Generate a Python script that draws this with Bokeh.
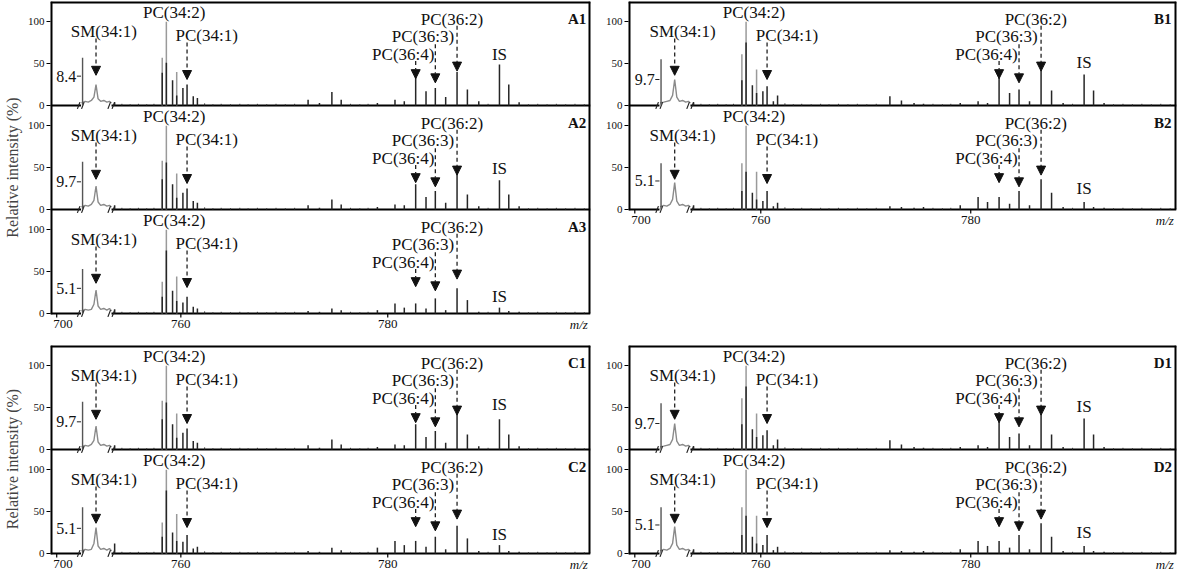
from bokeh.plotting import figure
from bokeh.models import Range1d, FixedTicker, Arrow, NormalHead
from bokeh.layouts import column, row
from bokeh.embed import file_html
from bokeh.resources import INLINE
from bokeh.core.properties import value

SERIF = "Liberation Serif"

# ---------------- data ----------------
# m/z below the axis break are drawn shifted by LOW_SHIFT (broken x axis)
LOW_SHIFT = 48.0
X_START, X_END = 747.4, 799.6
P = 124            # y units per stacked panel
U = 124 / 104      # y units per pixel

TICK_MZ = [700, 760, 780]
TICK_LABELS = ["700", "760", "780"]
BREAK_MZ = [702.35, 705.3]

PEAK_MZ = [753.6, 758.2, 758.6, 759.2, 759.6, 760.2, 760.6, 761.2, 761.6, 772.3, 773.4,
           774.6, 775.5, 779.0, 780.7, 781.6, 782.7, 783.7, 784.6, 785.6, 786.7, 787.7,
           788.8, 790.8, 791.7, 792.7]
GRAY_MZ = [758.2, 758.6, 759.6]
EDGE_MZ = 702.5
SM_TRACE_MZ = [702.4, 702.75, 703.05, 703.35, 703.6, 703.8, 704.0, 704.25, 704.55, 704.85, 705.1, 705.3]
NOISE_MZ = [754.3, 755.1, 755.9, 756.7, 757.4, 762.3, 763.1, 763.9, 764.8, 765.7, 766.5, 767.4,
            768.3, 769.2, 770.1, 771.0, 776.4, 777.3, 778.1, 789.7, 793.6, 794.5, 795.4,
            796.3, 797.2, 798.1, 799.0]
NOISE_H = [2, 1.5, 2, 1.5, 2, 2.5, 1.5, 2, 1.5, 2, 1.5, 2, 1.5, 2, 1.5, 2, 2, 1.5, 2,
           2, 1.5, 2, 1.5, 2, 1.5, 2, 1.5]

PANEL_NAMES = ["A1", "A2", "A3", "B1", "B2", "C1", "C2", "D1", "D2"]

A1_PEAKS = [4, 39, 51, 30, 12, 21, 25, 11, 9, 7, 3, 16, 7, 3, 7, 5, 35, 17, 21, 10, 40, 19, 5, 49, 25, 4]
A2_PEAKS = [5, 36, 56, 30, 14, 20, 25, 10, 8, 5, 2, 12, 6, 3, 6, 5, 30, 15, 22, 8, 48, 18, 4, 35, 18, 4]
A3_PEAKS = [5, 20, 75, 27, 15, 13, 20, 8, 6, 3, 2, 6, 4, 4, 12, 7, 12, 6, 18, 4, 30, 16, 2, 7, 3, 2]
B1_PEAKS = [4, 30, 75, 24, 15, 17, 23, 5, 12, 11, 6, 3, 2, 3, 5, 3, 33, 15, 19, 5, 43, 18, 3, 37, 18, 3]
B2_PEAKS = [5, 22, 45, 20, 12, 10, 22, 4, 8, 4, 3, 2, 3, 5, 15, 9, 15, 7, 22, 5, 36, 20, 3, 9, 3, 2]
C1_PEAKS = [5, 36, 56, 30, 14, 20, 25, 10, 8, 5, 2, 12, 6, 3, 6, 5, 30, 15, 22, 8, 46, 18, 4, 36, 18, 4]
C2_PEAKS = [12, 20, 75, 25, 15, 14, 22, 6, 8, 3, 2, 7, 4, 7, 15, 10, 15, 8, 20, 5, 33, 18, 3, 10, 3, 2]
D1_PEAKS = [4, 30, 75, 24, 15, 17, 23, 5, 12, 11, 6, 3, 2, 3, 5, 3, 33, 15, 19, 5, 43, 18, 3, 37, 18, 3]
D2_PEAKS = [5, 22, 45, 20, 12, 10, 22, 4, 8, 4, 3, 2, 3, 5, 15, 9, 15, 7, 22, 5, 36, 20, 3, 9, 3, 2]

A1_GRAY = [57, 100, 40]
A2_GRAY = [58, 100, 43]
A3_GRAY = [38, 100, 44]
B1_GRAY = [61, 100, 43]
B2_GRAY = [55, 100, 45]
C1_GRAY = [58, 100, 43]
C2_GRAY = [37, 100, 47]
D1_GRAY = [61, 100, 43]
D2_GRAY = [55, 100, 45]

A1_SM = [3, 5, 4, 6, 10, 25, 8, 5, 6, 4, 5, 3]
A2_SM = [3, 5, 4, 6, 11, 28, 9, 5, 6, 4, 5, 3]
A3_SM = [3, 5, 4, 5, 11, 28, 9, 5, 6, 4, 6, 3]
B1_SM = [3, 4, 5, 6, 12, 31, 10, 5, 6, 4, 5, 3]
B2_SM = [3, 5, 4, 6, 12, 32, 10, 5, 6, 4, 5, 3]
C1_SM = [3, 5, 4, 6, 11, 28, 9, 5, 6, 4, 5, 3]
C2_SM = [3, 5, 4, 5, 12, 31, 9, 5, 6, 4, 6, 3]
D1_SM = [3, 4, 5, 6, 12, 31, 10, 5, 6, 4, 5, 3]
D2_SM = [3, 5, 4, 6, 12, 32, 10, 5, 6, 4, 5, 3]

EDGE_H = [57, 57, 53, 55, 55, 57, 55, 55, 55]
SCALE_TEXT = ["8.4", "9.7", "5.1", "9.7", "5.1", "9.7", "5.1", "9.7", "5.1"]
SCALE_Y = [35, 33, 30, 31, 34, 33, 30, 31, 34]
IS_MZ = 790.8
IS_LABEL_Y = [61, 49, 20, 51, 25, 54, 23, 51, 25]

# annotation layout (in display m/z and % units)
LABELS = ["SM(34:1)", "PC(34:2)", "PC(34:1)", "PC(36:4)", "PC(36:3)", "PC(36:2)"]
LABEL_MZ = [703.8, 758.6, 760.6, 782.7, 784.6, 786.7]
LABEL_DX = [0.75, 0.75, 1.9, -1.2, -1.2, -0.5]
LABEL_Y = [88, 111, 83, 61, 82, 103]
ARROW_Y0 = [80, None, 75, 53, 73, 95]
ARROW_Y1 = [36, None, 31, 32, 27, 41]

PEAKS = {"A1": A1_PEAKS, "A2": A2_PEAKS, "A3": A3_PEAKS, "B1": B1_PEAKS, "B2": B2_PEAKS,
         "C1": C1_PEAKS, "C2": C2_PEAKS, "D1": D1_PEAKS, "D2": D2_PEAKS}
GRAYS = {"A1": A1_GRAY, "A2": A2_GRAY, "A3": A3_GRAY, "B1": B1_GRAY, "B2": B2_GRAY,
         "C1": C1_GRAY, "C2": C2_GRAY, "D1": D1_GRAY, "D2": D2_GRAY}
SMS = {"A1": A1_SM, "A2": A2_SM, "A3": A3_SM, "B1": B1_SM, "B2": B2_SM,
       "C1": C1_SM, "C2": C2_SM, "D1": D1_SM, "D2": D2_SM}


def disp(mz):
    return mz + LOW_SHIFT if mz < 730 else mz


def build(names, width, height, mbl, mbr, mbt, ylabel=None):
    n = len(names)
    top = n * P
    frame_px = height - mbt
    y_start = top - frame_px * U
    p = figure(width=width, height=height, output_backend="svg", toolbar_location=None,
               tools="", x_range=Range1d(X_START, X_END), y_range=Range1d(y_start, top),
               min_border_left=mbl, min_border_right=mbr, min_border_top=mbt,
               min_border_bottom=0)
    p.outline_line_color = None
    p.xgrid.visible = False
    p.ygrid.visible = False
    p.xaxis.visible = False
    p.background_fill_color = "white"
    p.border_fill_color = "white"

    # y axis (ticks only; the frame lines are drawn below)
    yt, ylab = [], {}
    for k in range(n):
        for v in (0, 50, 100):
            yt.append(k * P + v)
            ylab[k * P + v] = str(v)
    p.yaxis.ticker = FixedTicker(ticks=yt)
    p.yaxis.major_label_overrides = ylab
    p.yaxis.axis_line_color = None
    p.yaxis.major_tick_out = 4
    p.yaxis.major_tick_in = 0
    p.yaxis.major_tick_line_color = "black"
    p.yaxis.major_label_standoff = 2
    p.yaxis.major_label_text_font = SERIF
    p.yaxis.major_label_text_font_size = "11px"
    p.yaxis.major_label_text_color = "#111"
    if ylabel:
        p.yaxis.axis_label = ylabel
        p.yaxis.axis_label_text_font = SERIF
        p.yaxis.axis_label_text_font_size = "16px"
        p.yaxis.axis_label_text_font_style = "normal"
        p.yaxis.axis_label_standoff = 4

    # frame: left, top, right (half of each 4px line is clipped -> 2px)
    p.segment(x0=[X_START, X_START, X_END], y0=[-1, top, 0],
              x1=[X_START, X_END, X_END], y1=[top, top, top],
              line_color="black", line_width=4)

    # bottom m/z axis drawn inside the frame
    xt = [disp(t) for t in TICK_MZ]
    p.segment(x0=xt, y0=[0] * len(xt), x1=xt, y1=[-4 * U] * len(xt),
              line_color="black", line_width=1.2)
    xl = [max(x, X_START + 1.2) for x in xt]   # keep the first label inside the frame
    p.text(x=xl, y=[-10.5 * U] * len(xt), text=TICK_LABELS, text_font=value(SERIF),
           text_font_size="13px", text_align="center", text_baseline="middle", text_color="#111")
    p.text(x=[X_END - 0.25], y=[-10.5 * U], text=["m/z"], text_font=value(SERIF),
           text_font_size="13px", text_font_style="italic", text_align="right",
           text_baseline="middle", text_color="#111")

    lab_x, lab_y, lab_t = [], [], []
    id_x, id_y, id_t = [], [], []
    sc_x, sc_y, sc_t = [], [], []
    for i, name in enumerate(names):
        b = (n - 1 - i) * P
        idx = PANEL_NAMES.index(name)
        # baseline with break
        p.segment(x0=[X_START, disp(BREAK_MZ[1])], y0=[b, b],
                  x1=[disp(BREAK_MZ[0]), X_END], y1=[b, b], line_color="black", line_width=2)
        # noise
        p.segment(x0=NOISE_MZ, y0=[b] * len(NOISE_MZ), x1=NOISE_MZ,
                  y1=[b + h for h in NOISE_H], line_color="#333", line_width=1)
        # SM region gray trace
        p.line([disp(m) for m in SM_TRACE_MZ], [b + h for h in SMS[name]],
               line_color="#8a8a8a", line_width=1.4)
        # break marks
        for bm in BREAK_MZ:
            xb = disp(bm)
            p.segment(x0=[xb - 0.35, xb + 0.05], y0=[b - 4, b - 4],
                      x1=[xb - 0.1, xb + 0.3], y1=[b + 4, b + 4],
                      line_color="#222", line_width=1.2)
        # edge tall line
        p.segment(x0=[disp(EDGE_MZ)], y0=[b], x1=[disp(EDGE_MZ)], y1=[b + EDGE_H[idx]],
                  line_color="#555", line_width=1.4)
        # gray peaks
        p.segment(x0=GRAY_MZ, y0=[b] * len(GRAY_MZ), x1=GRAY_MZ,
                  y1=[b + h for h in GRAYS[name]], line_color="#9a9a9a", line_width=1.5)
        # dark peaks
        p.segment(x0=PEAK_MZ, y0=[b] * len(PEAK_MZ), x1=PEAK_MZ,
                  y1=[b + h for h in PEAKS[name]], line_color="#262626", line_width=1.5)

        # labels and arrows
        for lab, mz, dx, ly, a0, a1 in zip(LABELS, LABEL_MZ, LABEL_DX, LABEL_Y, ARROW_Y0, ARROW_Y1):
            x = disp(mz)
            lab_x.append(x + dx)
            lab_y.append(b + ly)
            lab_t.append(lab)
            if a0 is not None:
                p.add_layout(Arrow(x_start=x, y_start=b + a0, x_end=x, y_end=b + a1,
                                   line_color="#222", line_width=1.3, line_dash="4 3",
                                   end=NormalHead(size=9, fill_color="#111", line_color="#111",
                                                  line_width=1)))
        lab_x.append(IS_MZ)
        lab_y.append(b + IS_LABEL_Y[idx])
        lab_t.append("IS")
        id_x.append(798.3)
        id_y.append(b + 103)
        id_t.append(name)
        sc_x.append(749.9)
        sc_y.append(b + SCALE_Y[idx])
        sc_t.append(SCALE_TEXT[idx])
        p.segment(x0=[749.95], y0=[b + SCALE_Y[idx]], x1=[750.35], y1=[b + SCALE_Y[idx]],
                  line_color="#222", line_width=1)

    p.text(x=lab_x, y=lab_y, text=lab_t, text_font=value(SERIF), text_font_size="17px",
           text_align="center", text_baseline="middle", text_color="#111")
    p.text(x=id_x, y=id_y, text=id_t, text_font=value(SERIF), text_font_size="15px",
           text_font_style="bold", text_align="center", text_baseline="middle", text_color="#111")
    p.text(x=sc_x, y=sc_y, text=sc_t, text_font=value(SERIF), text_font_size="16px",
           text_align="right", text_baseline="middle", text_color="#111")
    return p


pa = build(["A1", "A2", "A3"], 598, 333, 45, 8, 1, "Relative intensity (%)")
pb = build(["B1", "B2"], 580, 231, 30, 2, 1)
pc = build(["C1", "C2"], 598, 239, 45, 8, 12, "Relative intensity (%)")
pd_ = build(["D1", "D2"], 580, 239, 30, 2, 12)

layout = column(row(pa, pb), row(pc, pd_))
open("out.html", "w").write(file_html(layout, INLINE))
